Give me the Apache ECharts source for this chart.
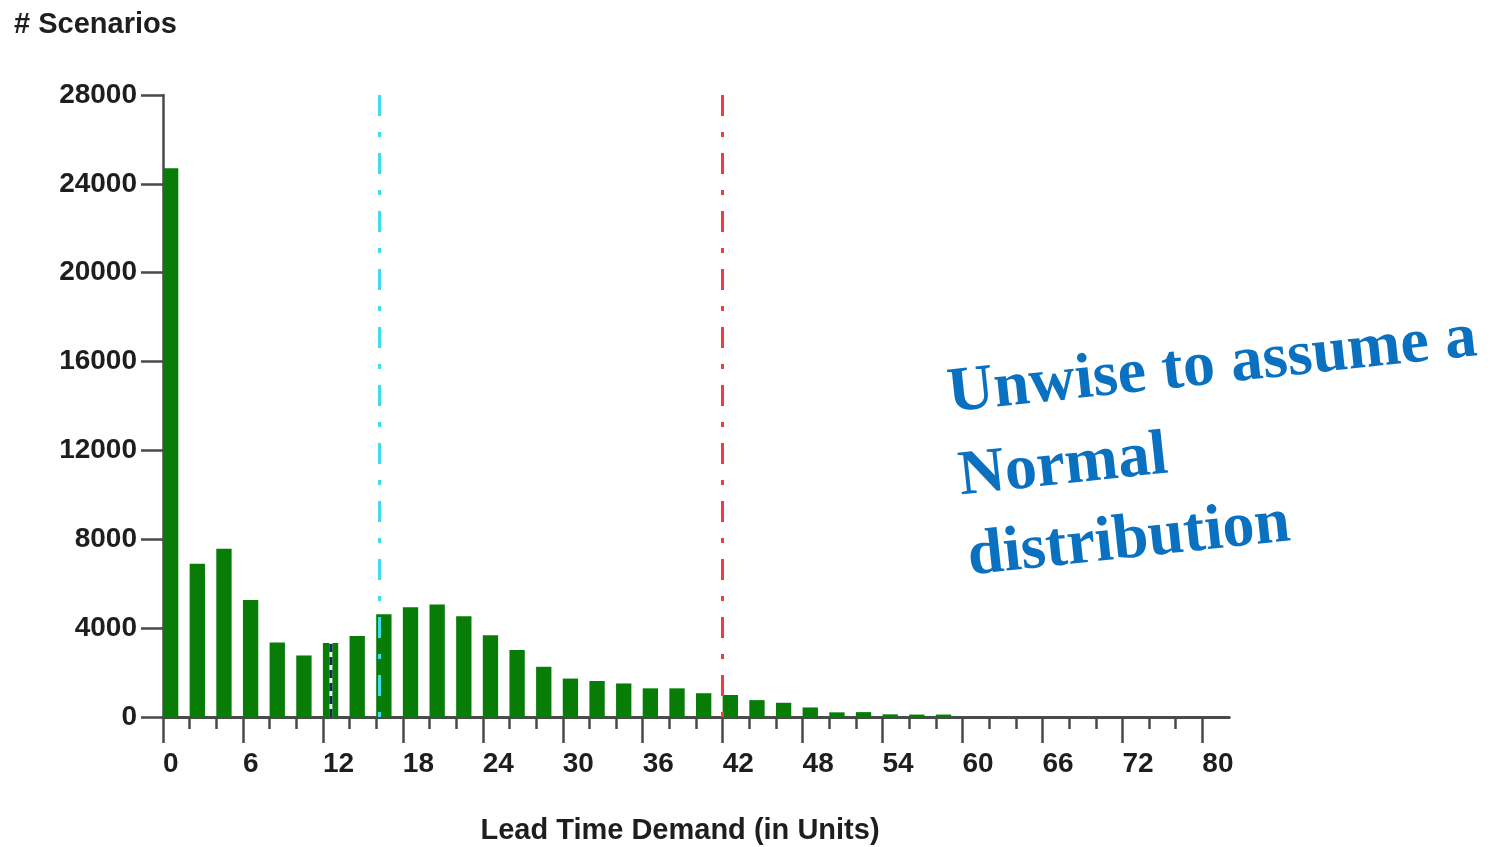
<!DOCTYPE html>
<html>
<head>
<meta charset="utf-8">
<title>Lead Time Demand</title>
<script src="https://cdn.jsdelivr.net/npm/echarts@6/dist/echarts.min.js"></script>
<style>
  html, body { margin: 0; padding: 0; background: #ffffff; }
  #chart { width: 1495px; height: 847px; }
</style>
</head>
<body>
<div id="chart"></div>
<script>
// Histogram bins: left edge of each demand bin (units) and scenario counts
const binStarts = [0, 2, 4, 6, 8, 10, 12, 14, 16, 18, 20, 22, 24, 26, 28,
                   30, 32, 34, 36, 38, 40, 42, 44, 46, 48, 50, 52, 54, 56, 58];
const scenarioCounts = [24700, 6900, 7570, 5270, 3350, 2770, 3330, 3650, 4630, 4940,
                        5060, 4540, 3680, 3020, 2260, 1730, 1620, 1510, 1290, 1290,
                        1070, 990, 760, 640, 430, 210, 220, 120, 110, 110];

// Axis ticks
const xMajorTicks = [0, 6, 12, 18, 24, 30, 36, 42, 48, 54, 60, 66, 72, 78];
const xMajorLabels = ['0', '6', '12', '18', '24', '30', '36', '42', '48', '54', '60', '66', '72', '80'];
const yTickLabels = ['0', '4000', '8000', '12000', '16000', '20000', '24000', '28000'];

// Reference lines
const meanLine = 16.2;
const reorderLine = 42;
const markerLine = 12.6;

// Annotation lines
const noteLines = ['Unwise to assume a', 'Normal', 'distribution'];

const BAR_SPAN = 1.15;

const xMinorTicks = [];
for (let v = 0; v <= 78; v += 2) xMinorTicks.push(v);

const barData = binStarts.map((x, i) => [x, scenarioCounts[i]]);
const markerTop = scenarioCounts[binStarts.indexOf(12)];

const chart = echarts.init(document.getElementById('chart'), null, { renderer: 'canvas' });

const axisLineStyle = { color: '#4a4a4a', width: 3 };
const labelStyle = {
  color: '#1e1e1e',
  fontFamily: "'Liberation Sans', Arial, sans-serif",
  fontWeight: 'bold',
  fontSize: 28
};
const NOTE_FONT = "bold 64px 'Liberation Serif', 'Times New Roman', serif";

function dashLine(x, color) {
  return [
    { coord: [x, 28000], lineStyle: { color: color, width: 3, type: [21, 16, 5, 16] } },
    { coord: [x, 0] }
  ];
}

function noteText(text, x, y) {
  return {
    type: 'text', x: x, y: y, rotation: 0.1065,
    style: { text: text, x: 0, y: -19, font: NOTE_FONT, fill: '#0a70c0', align: 'left', verticalAlign: 'middle' }
  };
}

const option = {
  backgroundColor: '#ffffff',
  animation: false,
  grid: { left: 163, right: 266, top: 95, bottom: 130, containLabel: false, outerBoundsMode: 'none' },
  xAxis: [
    {
      type: 'value', min: 0, max: 80, interval: 2, position: 'bottom', offset: 0,
      axisLine: { show: true, lineStyle: axisLineStyle },
      axisTick: { show: true, length: 12, lineStyle: { color: '#4a4a4a', width: 2.5 }, customValues: xMinorTicks },
      axisLabel: { show: false },
      splitLine: { show: false }
    },
    {
      type: 'value', min: 0, max: 80, interval: 6, position: 'bottom', offset: 0,
      axisLine: { show: true, lineStyle: axisLineStyle },
      axisTick: { show: true, length: 26, lineStyle: { color: '#4a4a4a', width: 2.5 }, customValues: xMajorTicks },
      axisLabel: Object.assign({
        show: true, margin: 33, align: 'left',
        customValues: xMajorTicks,
        formatter: function (v) {
          const i = xMajorTicks.indexOf(Math.round(v));
          return i >= 0 ? xMajorLabels[i] : '';
        }
      }, labelStyle),
      splitLine: { show: false }
    }
  ],
  yAxis: {
    type: 'value', min: 0, max: 28000, interval: 4000,
    axisLine: { show: true, lineStyle: { color: '#4a4a4a', width: 2.5 } },
    axisTick: { show: true, length: 22, lineStyle: { color: '#4a4a4a', width: 2.5 } },
    axisLabel: Object.assign({
      show: true, margin: 26,
      formatter: function (v) {
        const i = Math.round(v / 4000);
        return yTickLabels[i] !== undefined ? yTickLabels[i] : '';
      }
    }, labelStyle),
    splitLine: { show: false }
  },
  series: [
    {
      type: 'custom',
      name: 'Scenarios',
      xAxisIndex: 0,
      data: barData,
      renderItem: function (params, api) {
        const x0 = api.value(0);
        const v = api.value(1);
        const pTop = api.coord([x0, v]);
        const pBase = api.coord([x0 + BAR_SPAN, 0]);
        return {
          type: 'rect',
          shape: { x: pTop[0], y: pTop[1], width: pBase[0] - pTop[0], height: pBase[1] - pTop[1] },
          style: { fill: '#077d07' }
        };
      },
      z: 2
    },
    {
      type: 'line',
      xAxisIndex: 0,
      data: [[markerLine, 0], [markerLine, markerTop]],
      symbol: 'none',
      lineStyle: { color: '#e6f3ea', width: 3 },
      silent: true,
      z: 3
    },
    {
      type: 'line',
      xAxisIndex: 0,
      data: [[markerLine, 0], [markerLine, markerTop]],
      symbol: 'none',
      lineStyle: { color: '#0b2a55', width: 3, type: [8, 5] },
      silent: true,
      z: 4
    },
    {
      type: 'line',
      xAxisIndex: 0,
      data: [],
      silent: true,
      z: 5,
      markLine: {
        silent: true,
        symbol: ['none', 'none'],
        label: { show: false },
        emphasis: { disabled: true },
        data: [dashLine(meanLine, '#3fdcea'), dashLine(reorderLine, '#f23a44')]
      }
    }
  ],
  graphic: [
    {
      type: 'text', left: 14, top: 10,
      style: { text: '# Scenarios', font: "bold 29px 'Liberation Sans', Arial, sans-serif", fill: '#1e1e1e' }
    },
    {
      type: 'text', x: 680, y: 816,
      style: { text: 'Lead Time Demand (in Units)', font: "bold 29px 'Liberation Sans', Arial, sans-serif",
               fill: '#1e1e1e', align: 'center', verticalAlign: 'top' }
    },
    noteText(noteLines[0], 950, 414),
    noteText(noteLines[1], 961, 497),
    noteText(noteLines[2], 970, 577)
  ]
};

chart.setOption(option);
</script>
</body>
</html>
